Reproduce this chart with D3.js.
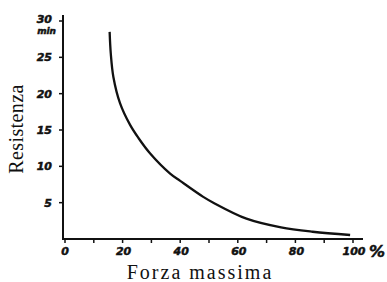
<!DOCTYPE html>
<html><head><meta charset="utf-8">
<script src="https://cdn.jsdelivr.net/npm/d3@7"></script>
<style>body{margin:0;background:#fff}</style>
</head><body>
<svg id="c" width="387" height="282"></svg>
<script>
const forzaPct = [15.5, 15.9, 16.8, 19.1, 22.6, 25.5, 29.5, 36.5, 40, 48, 51.5, 63, 75, 86, 99];
const resistenzaMin = [28.5, 25.5, 22.3, 18.7, 15.7, 13.9, 11.8, 9.0, 8.0, 5.8, 5.0, 2.8, 1.6, 1.0, 0.55];
const xTickLabels = [0, 20, 40, 60, 80, 100];
const xMinorTicks = [10, 30, 50, 70, 90];
const yTickLabels = [5, 10, 15, 20, 25, 30];

const svg = d3.select("#c");
const x = d3.scaleLinear().domain([0, 100]).range([65, 353]);
const y = d3.scaleLinear().domain([0, 30]).range([239, 21]);
const ink = "#111";
const tickFont = "'DejaVu Sans', sans-serif";

// axes lines
svg.append("line").attr("x1", 63).attr("x2", 63).attr("y1", 15).attr("y2", 240)
  .attr("stroke", ink).attr("stroke-width", 2);
svg.append("line").attr("x1", 62).attr("x2", 363).attr("y1", 239).attr("y2", 239)
  .attr("stroke", ink).attr("stroke-width", 2);

function hand(sel, size) {
  return sel.style("font-family", tickFont).style("font-weight", "700").style("font-style", "italic")
    .style("font-size", size + "px").attr("fill", ink).attr("stroke", ink).attr("stroke-width", 0.5);
}

// x ticks
const xAll = xTickLabels.concat(xMinorTicks);
svg.selectAll(".xt").data(xAll).enter().append("line")
  .attr("x1", d => x(d)).attr("x2", d => x(d)).attr("y1", 239).attr("y2", 243)
  .attr("stroke", ink).attr("stroke-width", 1.5);
hand(svg.selectAll(".xl").data(xTickLabels).enter().append("text")
  .attr("x", d => x(d) + (d === 0 ? 0 : 1)).attr("y", 255)
  .attr("text-anchor", "middle").text(d => d), 11);
hand(svg.append("text").attr("x", 369).attr("y", 257).text("%"), 16);

// y ticks
svg.selectAll(".yt").data(yTickLabels).enter().append("line")
  .attr("x1", 59).attr("x2", 63).attr("y1", d => y(d)).attr("y2", d => y(d))
  .attr("stroke", ink).attr("stroke-width", 1.5);
hand(svg.selectAll(".yl").data(yTickLabels).enter().append("text")
  .attr("x", 52).attr("y", d => y(d) + (d === 30 ? 2 : 4))
  .attr("text-anchor", "end").text(d => d), 11);
hand(svg.append("text").attr("x", 56).attr("y", 34).attr("text-anchor", "end").text("min"), 9);

// curve
const pts = forzaPct.map((f, i) => [f, resistenzaMin[i]]);
const line = d3.line().x(d => x(d[0])).y(d => y(d[1])).curve(d3.curveCatmullRom.alpha(0.5));
svg.append("path").datum(pts).attr("d", line)
  .attr("fill", "none").attr("stroke", ink).attr("stroke-width", 2.3);

// titles
svg.append("text").attr("transform", "translate(23,129) rotate(-90)")
  .attr("text-anchor", "middle").style("font-family", "'Liberation Serif', serif")
  .style("font-size", "20px").style("letter-spacing", "0.4px").attr("fill", ink).text("Resistenza");
svg.append("text").attr("x", 200).attr("y", 279)
  .attr("text-anchor", "middle").style("font-family", "'Liberation Serif', serif")
  .style("font-size", "20px").style("letter-spacing", "2px").attr("fill", ink).text("Forza  massima");
</script>
</body></html>
